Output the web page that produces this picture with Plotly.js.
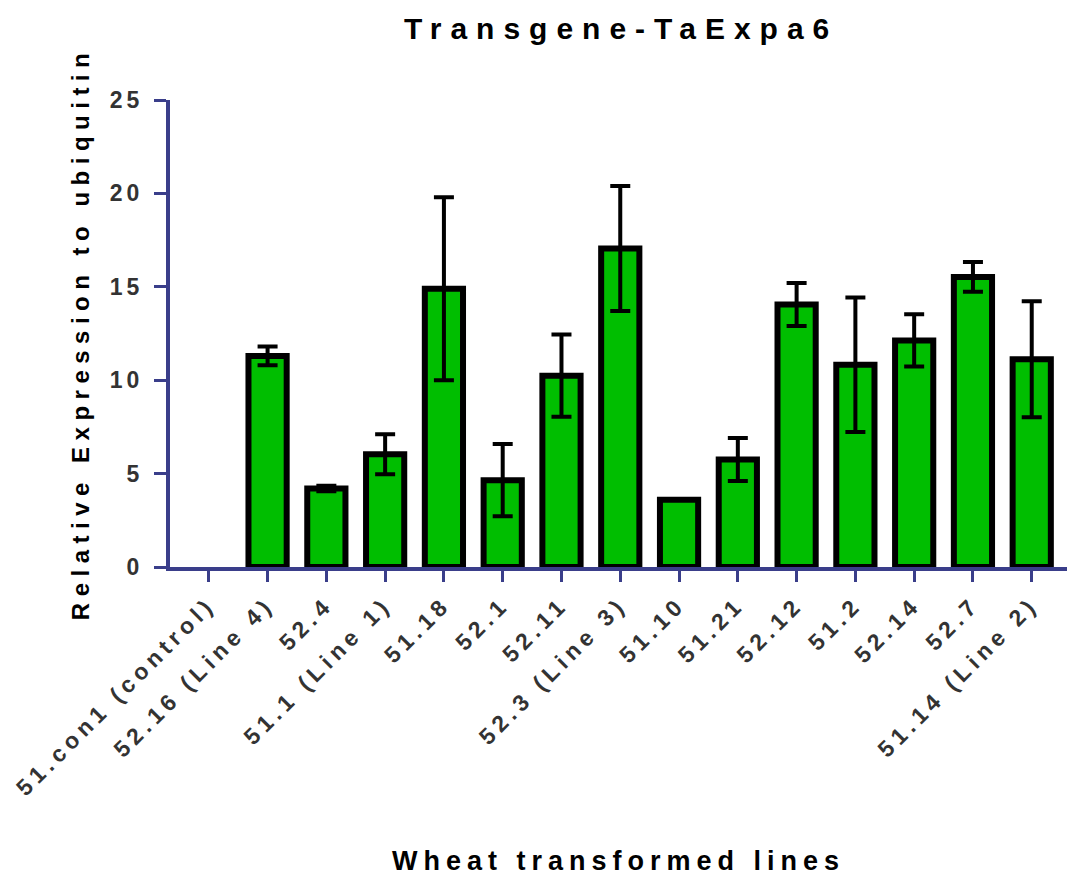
<!DOCTYPE html>
<html>
<head>
<meta charset="utf-8">
<script src="https://cdn.plot.ly/plotly-3.0.1.min.js"></script>
<style>
  html, body { margin: 0; padding: 0; background: #fff; }
  #chart { width: 1067px; height: 876px; }
  .gtitle { letter-spacing: 9px; }
  .xtitle { letter-spacing: 6px; }
  .ytitle { letter-spacing: 6.5px; }
  .xtick text { letter-spacing: 5px; }
  .ytick text { letter-spacing: 4px; }
</style>
</head>
<body>
<div id="chart"></div>
<script>
const categories = ['51.con1 (control)', '52.16 (Line 4)', '52.4', '51.1 (Line 1)', '51.18', '52.1', '52.11', '52.3 (Line 3)', '51.10', '51.21', '52.12', '51.2', '52.14', '52.7', '51.14 (Line 2)'];
const means = [null, 11.3, 4.2, 6.03, 14.9, 4.65, 10.24, 17.05, 3.6, 5.75, 14.05, 10.83, 12.13, 15.53, 11.12];
const errors = [null, 0.5, 0.15, 1.07, 4.9, 1.93, 2.2, 3.35, null, 1.15, 1.15, 3.6, 1.4, 0.8, 3.1];
const yTickVals = [0, 5, 10, 15, 20, 25];

const axisColor = 'rgb(58,62,138)';
const fontFam = '"Liberation Sans", Arial, sans-serif';

const trace = {
  type: 'bar',
  x: categories.map((c, i) => i),
  y: means,
  width: 0.65,
  marker: { color: 'rgb(0,190,0)', line: { color: '#000', width: 6 } },
  error_y: { type: 'data', array: errors, visible: true, color: '#000', thickness: 4, width: 10 },
  hoverinfo: 'skip'
};

const layout = {
  width: 1067, height: 876,
  margin: { l: 170, r: 0, t: 100, b: 309 },
  paper_bgcolor: '#fff', plot_bgcolor: '#fff',
  showlegend: false,
  font: { family: fontFam, color: '#000' },
  title: {
    text: 'Transgene-TaExpa6',
    font: { family: fontFam, size: 30, weight: 'bold', color: '#000' },
    x: 0.503, xanchor: 'center', xref: 'paper',
    y: 1 - 28 / 876, yanchor: 'middle', yref: 'container'
  },
  xaxis: {
    range: [-0.66, 14.6],
    tickmode: 'array',
    tickvals: categories.map((c, i) => i),
    ticktext: categories,
    tickangle: -45,
    tickfont: { family: fontFam, size: 23, weight: 'bold', color: '#333' },
    showline: true, linecolor: axisColor, linewidth: 4,
    ticks: 'outside', ticklen: 11, tickwidth: 3, tickcolor: axisColor,
    showgrid: false, zeroline: false,
    title: {
      text: 'Wheat transformed lines',
      font: { family: fontFam, size: 27, weight: 'bold', color: '#000' },
      standoff: 56
    }
  },
  yaxis: {
    range: [0, 25],
    tickmode: 'array',
    tickvals: yTickVals,
    ticktext: yTickVals.map(String),
    tickfont: { family: fontFam, size: 23, weight: 'bold', color: '#333' },
    showline: true, linecolor: axisColor, linewidth: 4,
    ticks: 'outside', ticklen: 12, tickwidth: 3, tickcolor: axisColor,
    ticklabelstandoff: 6,
    showgrid: false, zeroline: false,
    title: {
      text: 'Relative Expression to ubiquitin',
      font: { family: fontFam, size: 24, weight: 'bold', color: '#000' },
      standoff: 14
    }
  }
};

Plotly.newPlot('chart', [trace], layout, { displayModeBar: false, staticPlot: true });
</script>
</body>
</html>
